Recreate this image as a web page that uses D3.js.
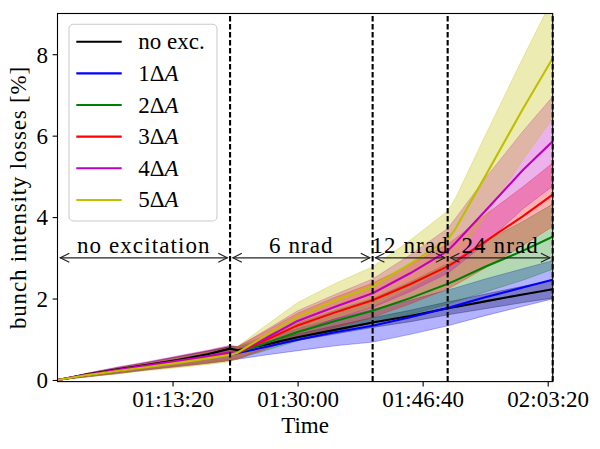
<!DOCTYPE html>
<html><head><meta charset="utf-8">
<script src="https://cdn.jsdelivr.net/npm/d3@7"></script>
<style>
html,body{margin:0;padding:0;background:#fff;}
svg{display:block;}
svg text{font-family:"Liberation Serif","Times New Roman",serif !important;}
</style></head>
<body><svg id="chart" width="600" height="449"></svg>
<script>
// ---- data ----
const timeMin = [58, 62, 66, 70, 74, 78, 81, 82, 86, 90, 95, 100, 105, 110, 111, 115, 120, 124];
const seriesNames = ["no exc.", "1ΔA", "2ΔA", "3ΔA", "4ΔA", "5ΔA"];
const seriesColors = ["#000000", "#0000ff", "#008000", "#ff0000", "#bf00bf", "#bfbf00"];
const noExc  = [0, 0.14, 0.26, 0.37, 0.49, 0.63, 0.77, 0.73, 0.88, 1.05, 1.23, 1.41, 1.57, 1.76, 1.79, 1.93, 2.10, 2.23];
const exc1   = [0, 0.12, 0.23, 0.34, 0.45, 0.56, 0.65, 0.66, 0.82, 0.99, 1.17, 1.33, 1.54, 1.77, 1.82, 2.03, 2.27, 2.46];
const exc2   = [0, 0.12, 0.23, 0.34, 0.45, 0.56, 0.65, 0.67, 0.92, 1.18, 1.45, 1.70, 2.01, 2.36, 2.44, 2.78, 3.17, 3.52];
const exc3   = [0, 0.12, 0.23, 0.34, 0.45, 0.56, 0.65, 0.67, 1.00, 1.34, 1.66, 1.96, 2.35, 2.79, 2.90, 3.40, 4.02, 4.55];
const exc4   = [0, 0.13, 0.25, 0.36, 0.47, 0.58, 0.68, 0.67, 1.05, 1.45, 1.80, 2.13, 2.62, 3.17, 3.36, 4.15, 5.15, 5.86];
const exc5   = [0, 0.12, 0.22, 0.32, 0.42, 0.53, 0.62, 0.67, 1.12, 1.55, 1.95, 2.30, 2.85, 3.45, 3.70, 5.00, 6.65, 7.90];
const noExcStd = [0, 0.02, 0.03, 0.03, 0.04, 0.05, 0.05, 0.05, 0.07, 0.08, 0.10, 0.12, 0.14, 0.16, 0.16, 0.18, 0.20, 0.22];
const exc1Std  = [0, 0.04, 0.07, 0.09, 0.12, 0.15, 0.17, 0.15, 0.20, 0.27, 0.33, 0.40, 0.42, 0.44, 0.44, 0.45, 0.46, 0.47];
const exc2Std  = [0, 0.04, 0.07, 0.09, 0.12, 0.15, 0.17, 0.15, 0.18, 0.22, 0.26, 0.30, 0.40, 0.50, 0.52, 0.62, 0.72, 0.80];
const exc3Std  = [0, 0.04, 0.07, 0.09, 0.12, 0.15, 0.17, 0.15, 0.22, 0.30, 0.37, 0.42, 0.48, 0.55, 0.57, 0.65, 0.72, 0.78];
const exc4Std  = [0, 0.04, 0.07, 0.09, 0.12, 0.15, 0.17, 0.15, 0.20, 0.25, 0.30, 0.35, 0.45, 0.55, 0.60, 0.80, 0.95, 1.10];
const exc5Std  = [0, 0.04, 0.07, 0.09, 0.12, 0.15, 0.17, 0.15, 0.25, 0.35, 0.42, 0.48, 0.58, 0.70, 0.75, 1.00, 1.25, 1.47];
const xTickSec = [4400, 5400, 6400, 7400];
const yTicks = [0, 2, 4, 6, 8];
const phaseBoundsMin = [81, 100, 110, 124];
const phaseLabels = ["no excitation", "6 nrad", "12 nrad", "24 nrad"];
const phaseArrowY = 3;
const xLabel = "Time";
const yLabel = "bunch intensity losses [%]";

const means = [noExc, exc1, exc2, exc3, exc4, exc5];
const stds = [noExcStd, exc1Std, exc2Std, exc3Std, exc4Std, exc5Std];

// ---- layout ----
const svg = d3.select("#chart");
const L = 57.5, R = 552.7, T = 13.5, B = 381.6;
const x = d3.scaleLinear().domain([timeMin[0]*60, timeMin[timeMin.length-1]*60]).range([L, R]);
const y = d3.scaleLinear().domain([-0.04, 9.0]).range([B, T]);
const FS = 23;

svg.append("defs").append("clipPath").attr("id","clip")
  .append("rect").attr("x",L).attr("y",T).attr("width",R-L).attr("height",B-T);

const plot = svg.append("g").attr("clip-path","url(#clip)");

// bands (all under lines)
means.forEach((m,i)=>{
  const pts = timeMin.map((t,j)=>({t:t*60, lo:m[j]-stds[i][j], hi:m[j]+stds[i][j]}));
  const area = d3.area().x(d=>x(d.t)).y0(d=>y(d.lo)).y1(d=>y(d.hi));
  plot.append("path").attr("d",area(pts))
    .attr("fill",seriesColors[i]).attr("fill-opacity",0.3)
    .attr("stroke",seriesColors[i]).attr("stroke-opacity",0.3).attr("stroke-width",1);
});
// lines
means.forEach((m,i)=>{
  const line = d3.line().x((d,j)=>x(timeMin[j]*60)).y(d=>y(d));
  plot.append("path").attr("d",line(m)).attr("fill","none")
    .attr("stroke",seriesColors[i]).attr("stroke-width",2.1).attr("stroke-linejoin","round");
});

// dashed vertical lines
phaseBoundsMin.forEach(t=>{
  svg.append("line").attr("x1",x(t*60)).attr("x2",x(t*60)).attr("y1",B).attr("y2",T)
    .attr("stroke","#000").attr("stroke-width",2.1).attr("stroke-dasharray","5.6,2.4");
});

// phase arrows
const bounds = [timeMin[0]].concat(phaseBoundsMin);
const ay = y(phaseArrowY);
const hl = 9, hw = 4.5, shrink = 2.8;
phaseLabels.forEach((lab,i)=>{
  const x1 = x(bounds[i]*60)+shrink, x2 = x(bounds[i+1]*60)-shrink;
  const g = svg.append("g").attr("stroke","#222").attr("stroke-width",1.2).attr("fill","none");
  g.append("line").attr("x1",x1).attr("x2",x2).attr("y1",ay).attr("y2",ay);
  g.append("path").attr("d",`M${x1+hl},${ay-hw}L${x1},${ay}L${x1+hl},${ay+hw}`);
  g.append("path").attr("d",`M${x2-hl},${ay-hw}L${x2},${ay}L${x2-hl},${ay+hw}`);
  svg.append("text").attr("x",(x1+x2)/2).attr("y",ay-4.5).attr("text-anchor","middle")
    .attr("font-size",FS).attr("letter-spacing","1.1px").attr("fill","#000").text(lab);
});

// axes
const xAxis = d3.axisBottom(x).tickValues(xTickSec).tickSize(4.9).tickPadding(4)
  .tickFormat(s=>{const h=Math.floor(s/3600), mm=Math.floor((s%3600)/60), ss=s%60;
    return [h,mm,ss].map(v=>String(v).padStart(2,"0")).join(":");});
const yAxis = d3.axisLeft(y).tickValues(yTicks).tickSize(4.9).tickPadding(4.5).tickFormat(d3.format("d"));
const gx = svg.append("g").attr("transform",`translate(0,${B})`).call(xAxis);
const gy = svg.append("g").attr("transform",`translate(${L},0)`).call(yAxis);
[gx,gy].forEach(g=>{
  g.attr("font-family","Liberation Serif, serif").attr("font-size",FS);
  g.select(".domain").remove();
  g.selectAll(".tick line").attr("stroke","#000").attr("stroke-width",1.1);
  g.selectAll(".tick text").attr("font-size",FS).attr("fill","#000");
});
gy.selectAll(".tick text").attr("dy","0.34em");
// frame
svg.append("rect").attr("x",L).attr("y",T).attr("width",R-L).attr("height",B-T)
  .attr("fill","none").attr("stroke","#000").attr("stroke-width",1.1);

// axis labels
svg.append("text").attr("x",(L+R)/2).attr("y",433).attr("text-anchor","middle")
  .attr("font-size",FS).text(xLabel);
svg.append("text").attr("transform",`translate(26,${(T+B)/2}) rotate(-90)`).attr("text-anchor","middle")
  .attr("font-size",FS).attr("letter-spacing","0.8px").text(yLabel);

// legend
const lg = svg.append("g");
lg.append("rect").attr("x",69).attr("y",24.3).attr("width",148).attr("height",196.7).attr("rx",4.5)
  .attr("fill","#fff").attr("fill-opacity",0.8).attr("stroke","#cccccc").attr("stroke-width",1.1);
seriesNames.forEach((name,i)=>{
  const ry = 41.7 + i*31.65;
  lg.append("line").attr("x1",76.3).attr("x2",121.7).attr("y1",ry).attr("y2",ry)
    .attr("stroke",seriesColors[i]).attr("stroke-width",2.1);
  const t = lg.append("text").attr("x",138.3).attr("y",ry+7.5).attr("font-size",FS);
  if (name.endsWith("A")) {
    t.append("tspan").text(name.slice(0,-1));
    t.append("tspan").attr("font-style","italic").text("A");
  } else t.text(name);
});
</script></body></html>
